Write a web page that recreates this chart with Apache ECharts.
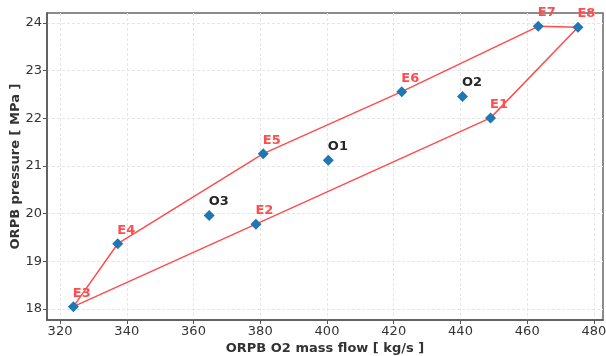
<!DOCTYPE html>
<html>
<head>
<meta charset="utf-8">
<script src="https://cdn.jsdelivr.net/npm/echarts@6/dist/echarts.min.js"></script>
<style>
  html, body { margin: 0; padding: 0; background: #fff; }
  #chart { width: 606px; height: 356px; }
</style>
</head>
<body>
<div id="chart"></div>
<script>
// operating envelope points E1..E8 and operating points O1..O3
const eNames = ['E1', 'E2', 'E3', 'E4', 'E5', 'E6', 'E7', 'E8'];
const eFlow = [449.0, 378.7, 324.0, 337.3, 380.9, 422.4, 463.3, 475.2];
const ePress = [22.01, 19.78, 18.05, 19.37, 21.26, 22.56, 23.93, 23.91];

const oNames = ['O1', 'O2', 'O3'];
const oFlow = [400.4, 440.6, 364.7];
const oPress = [21.12, 22.46, 19.96];

// order the envelope is traced in
const loopOrder = ['E3', 'E4', 'E5', 'E6', 'E7', 'E8', 'E1', 'E2', 'E3'];

const xTicks = [320, 340, 360, 380, 400, 420, 440, 460, 480];
const yTicks = [18, 19, 20, 21, 22, 23, 24];

const RED = '#ff4d4d';
const BLUE = '#1f77b4';
const FONT = 'DejaVu Sans';

const loopData = loopOrder.map(n => {
  const i = eNames.indexOf(n);
  return [eFlow[i], ePress[i]];
});

const pointData = [];
eNames.forEach((n, i) => pointData.push({
  name: n, value: [eFlow[i], ePress[i]],
  label: { color: RED }
}));
oNames.forEach((n, i) => pointData.push({
  name: n, value: [oFlow[i], oPress[i]],
  label: { color: '#262626' }
}));

const chart = echarts.init(document.getElementById('chart'));

const axisCommon = {
  axisLine: { show: true, lineStyle: { color: '#555', width: 1.5 } },
  axisTick: { show: true, length: 4, lineStyle: { color: '#555' } },
  splitLine: { show: true, lineStyle: { color: '#e6e6e6', type: [3, 2], width: 1 } },
  nameTextStyle: { fontFamily: FONT, fontWeight: 'bold', fontSize: 13, color: '#333' },
  nameMoveOverlap: false
}

chart.setOption({
  animation: false,
  backgroundColor: '#fff',
  grid: {
    left: 47, right: 3, top: 13, bottom: 36,
    outerBoundsMode: 'none', containLabel: false,
    show: true, borderColor: '#666', borderWidth: 1.5
  },
  xAxis: {
    type: 'value',
    min: 316.1,
    max: 482.7,
    name: 'ORPB O2 mass flow [ kg/s ]',
    nameLocation: 'middle',
    nameGap: 22,
    ...axisCommon,
    axisTick: { ...axisCommon.axisTick, customValues: xTicks },
    axisLabel: { customValues: xTicks, color: '#333', fontFamily: FONT, fontSize: 13, margin: 5 }
  },
  yAxis: {
    type: 'value',
    min: 17.77,
    max: 24.21,
    name: 'ORPB pressure [ MPa ]',
    nameLocation: 'middle',
    nameGap: 25,
    ...axisCommon,
    axisTick: { ...axisCommon.axisTick, customValues: yTicks },
    axisLabel: { customValues: yTicks, color: '#333', fontFamily: FONT, fontSize: 13, margin: 5 }
  },
  series: [
    {
      type: 'line',
      data: loopData,
      showSymbol: false,
      lineStyle: { color: RED, width: 1.5 },
      z: 2
    },
    {
      type: 'scatter',
      data: pointData,
      symbol: 'diamond',
      symbolSize: 11,
      itemStyle: { color: BLUE, opacity: 1 },
      label: {
        show: true,
        formatter: p => p.name,
        position: [5, -8],
        align: 'left',
        verticalAlign: 'middle',
        fontFamily: FONT,
        fontWeight: 'bold',
        fontSize: 13
      },
      z: 3
    }
  ]
});
</script>
</body>
</html>
